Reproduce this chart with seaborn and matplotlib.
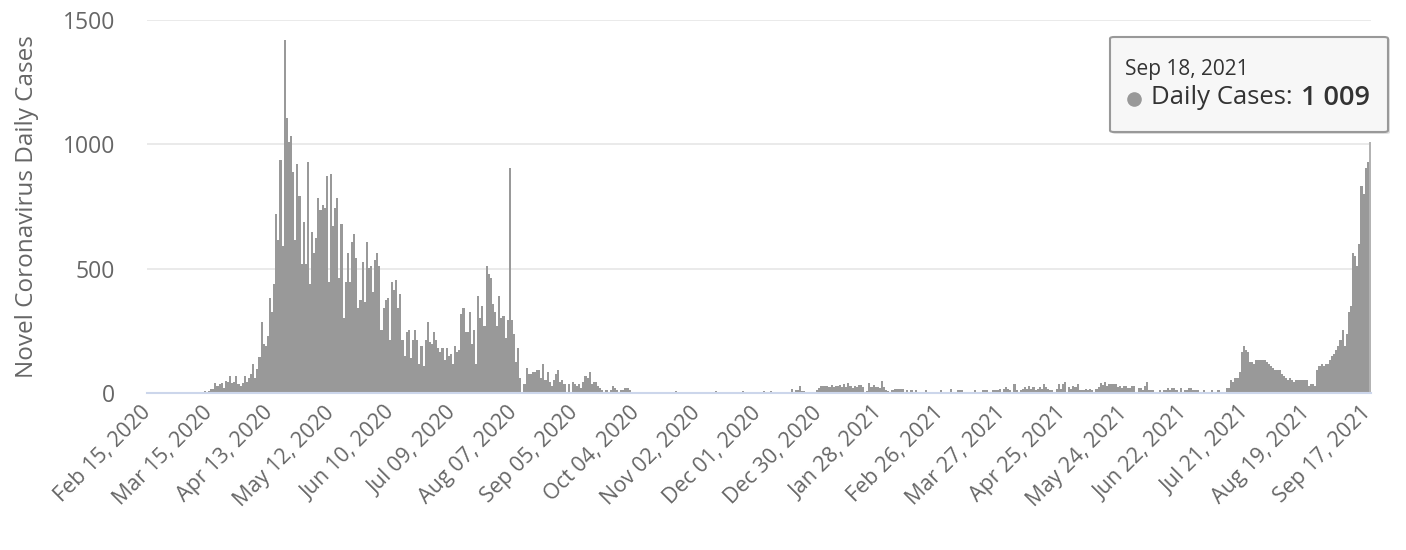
import numpy as np
import pandas as pd
import matplotlib
matplotlib.use("Agg")
import matplotlib.pyplot as plt
from matplotlib.patches import FancyBboxPatch
from matplotlib.lines import Line2D
import seaborn as sns

# -----------------------------
# DATA (daily cases, one list per 29-day tick interval)
# -----------------------------
START_DATE = "2020-02-15"
TICK_STEP = 29

cases_2020_02_15 = [0, 0, 0, 0, 0, 0, 0, 0, 0, 0, 0, 0, 0, 0, 0, 0, 0, 0, 0, 6,
                    0, 0, 0, 0, 0, 0, 0, 8, 5]
cases_2020_03_15 = [8, 15, 15, 40, 30, 37, 40, 21, 50, 44, 67, 42, 43, 67, 37,
                    27, 42, 67, 44, 60, 75, 115, 60, 98, 145, 285, 196, 189, 228]
cases_2020_04_13 = [382, 324, 437, 718, 614, 935, 590, 1418, 1104, 1008, 1032, 887,
                    614, 919, 791, 517, 686, 517, 927, 437, 646, 565, 622, 783,
                    734, 758, 742, 871, 445]
cases_2020_05_12 = [879, 670, 742, 783, 461, 678, 300, 445, 565, 445, 606, 638,
                    541, 340, 373, 525, 364, 606, 501, 509, 405, 533, 565, 509,
                    252, 340, 373, 381, 212]
cases_2020_06_10 = [445, 413, 453, 340, 397, 212, 147, 244, 252, 139, 212, 252,
                    212, 115, 188, 107, 212, 284, 204, 196, 244, 212, 180, 163,
                    180, 131, 180, 147, 155]
cases_2020_07_09 = [115, 188, 163, 171, 316, 340, 244, 244, 324, 196, 252, 115,
                    389, 300, 348, 268, 509, 477, 461, 356, 324, 268, 389, 300,
                    308, 220, 292, 903, 292]
cases_2020_08_07 = [236, 123, 180, 59, 0, 35, 99, 75, 75, 83, 83, 91, 91, 59, 115,
                    51, 83, 43, 27, 51, 75, 91, 43, 51, 35, 0, 35, 0, 43]
cases_2020_09_05 = [35, 27, 35, 19, 43, 67, 59, 83, 35, 43, 43, 27, 19, 11, 0,
                    11, 0, 11, 27, 19, 11, 0, 11, 11, 19, 19, 11, 0, 0]
cases_2020_10_04 = [0, 0, 0, 0, 0, 0, 0, 0, 0, 0, 0, 0, 0, 0, 0, 0, 0, 0, 0, 8,
                    0, 0, 0, 0, 0, 0, 0, 0, 0]
cases_2020_11_02 = [0, 0, 0, 0, 0, 0, 0, 0, 0, 8, 0, 0, 0, 0, 0, 0, 0, 0, 0, 0,
                    0, 0, 8, 0, 0, 0, 0, 0, 0]
cases_2020_12_01 = [0, 0, 0, 8, 0, 0, 8, 0, 0, 0, 0, 0, 0, 0, 5, 0, 17, 0, 11, 11,
                    27, 8, 8, 0, 0, 0, 0, 0, 11]
cases_2020_12_30 = [20, 27, 27, 27, 27, 24, 31, 24, 27, 27, 33, 24, 36, 24, 42,
                    27, 20, 27, 24, 33, 33, 24, 0, 8, 42, 24, 33, 24, 24]
cases_2021_01_28 = [20, 50, 24, 11, 8, 0, 11, 17, 17, 17, 17, 17, 0, 11, 0, 11,
                    0, 11, 0, 0, 0, 0, 11, 0, 0, 0, 0, 0, 0]
cases_2021_02_26 = [11, 0, 0, 0, 0, 17, 0, 0, 11, 11, 11, 0, 0, 0, 0, 0, 11, 0,
                    0, 0, 11, 11, 11, 0, 0, 11, 11, 11, 17]
cases_2021_03_27 = [0, 17, 24, 17, 11, 0, 35, 11, 0, 11, 17, 24, 17, 27, 17, 24,
                    11, 17, 24, 17, 35, 24, 17, 11, 11, 0, 17, 35, 17]
cases_2021_04_25 = [38, 44, 0, 24, 17, 27, 24, 35, 11, 11, 11, 17, 11, 17, 11, 0,
                    17, 24, 40, 33, 43, 27, 35, 35, 35, 35, 24, 27, 19]
cases_2021_05_24 = [27, 27, 19, 19, 27, 27, 0, 19, 19, 11, 27, 43, 11, 11, 11, 0,
                    0, 11, 0, 11, 11, 19, 11, 19, 19, 11, 0, 19, 0]
cases_2021_06_22 = [11, 11, 19, 19, 11, 11, 11, 0, 0, 11, 0, 0, 0, 11, 0, 0, 11,
                    0, 0, 0, 19, 19, 51, 43, 59, 59, 83, 163, 188]
cases_2021_07_21 = [172, 163, 123, 123, 115, 131, 131, 131, 131, 131, 123, 115,
                    107, 99, 91, 91, 91, 75, 67, 59, 51, 59, 51, 43, 51, 51, 51,
                    51, 51]
cases_2021_08_19 = [51, 27, 35, 35, 27, 91, 107, 115, 107, 115, 115, 131, 147,
                    155, 172, 188, 212, 252, 188, 236, 324, 348, 565, 549, 509,
                    598, 831, 799, 903]
cases_2021_09_17 = [927, 1009]

daily_cases = (cases_2020_02_15 + cases_2020_03_15 + cases_2020_04_13 +
               cases_2020_05_12 + cases_2020_06_10 + cases_2020_07_09 +
               cases_2020_08_07 + cases_2020_09_05 + cases_2020_10_04 +
               cases_2020_11_02 + cases_2020_12_01 + cases_2020_12_30 +
               cases_2021_01_28 + cases_2021_02_26 + cases_2021_03_27 +
               cases_2021_04_25 + cases_2021_05_24 + cases_2021_06_22 +
               cases_2021_07_21 + cases_2021_08_19 + cases_2021_09_17)

dates = pd.date_range(START_DATE, periods=len(daily_cases), freq="D")
df = pd.DataFrame({"day": np.arange(len(daily_cases)), "cases": daily_cases})

# -----------------------------
# STYLE
# -----------------------------
BAR_COLOR = "#999999"
HOVER_COLOR = "#b3b3b3"
LABEL_COLOR = "#666666"
W, H = 1406, 550

sns.set_theme(style="white")
plt.rcParams["font.family"] = ["Open Sans", "DejaVu Sans"]

fig = plt.figure(figsize=(W / 100, H / 100), dpi=100)
ax = fig.add_axes([147 / W, 1 - 393 / H, 1224 / W, 373 / H])

sns.barplot(data=df, x="day", y="cases", color=BAR_COLOR, saturation=1,
            width=1.0, errorbar=None, linewidth=0, ax=ax)
ax.patches[-1].set_facecolor(HOVER_COLOR)

n = len(daily_cases)
ax.set_xlim(-0.5, n - 0.5)
ax.set_ylim(0, 1500)
ax.set_yticks([0, 500, 1000, 1500])
ax.set_yticklabels(["0", "500", "1000", "1500"])

tick_pos = list(range(0, n, TICK_STEP))
ax.set_xticks(tick_pos)
ax.set_xticklabels([dates[i].strftime("%b %d, %Y") for i in tick_pos],
                   rotation=45, ha="right", va="center", rotation_mode="anchor")

ax.grid(axis="y", color="#e6e6e6", linewidth=1.2)
ax.set_axisbelow(True)
for side in ["top", "right", "left"]:
    ax.spines[side].set_visible(False)
ax.spines["bottom"].set_color("#ccd6eb")
ax.spines["bottom"].set_linewidth(1.5)

ax.tick_params(axis="y", length=0, pad=23, labelsize=16.5, labelcolor=LABEL_COLOR)
ax.tick_params(axis="x", length=0, pad=12, labelsize=15.5, labelcolor=LABEL_COLOR)

ax.set_xlabel("")
ax.set_ylabel("Novel Coronavirus Daily Cases", fontsize=17.5, color=LABEL_COLOR)
ax.yaxis.set_label_coords(-0.088, 0.5)

# -----------------------------
# TOOLTIP
# -----------------------------
def fx(px):
    return px / W

def fy(py):
    return 1 - py / H

shadow = FancyBboxPatch((fx(1112), fy(134)), fx(278), 96 / H,
                        boxstyle="round,pad=0,rounding_size=0.003",
                        transform=fig.transFigure, facecolor="#000000",
                        alpha=0.12, edgecolor="none")
box = FancyBboxPatch((fx(1110), fy(132)), fx(278), 95 / H,
                     boxstyle="round,pad=0,rounding_size=0.003",
                     transform=fig.transFigure, facecolor="#f7f7f7",
                     edgecolor="#999999", linewidth=1.5)
fig.add_artist(shadow)
fig.add_artist(box)

fig.text(fx(1125), fy(70), dates[-1].strftime("%b %d, %Y"), fontsize=15,
         color="#333333", va="center", ha="left")
fig.add_artist(Line2D([fx(1134)], [fy(99)], marker="o", markersize=9.5,
                      color=BAR_COLOR, transform=fig.transFigure))
fig.text(fx(1151), fy(98), "Daily Cases:", fontsize=18.5, color="#333333",
         va="center", ha="left")
fig.text(fx(1370), fy(98), f"{daily_cases[-1]:,}".replace(",", " "),
         fontsize=19.5, fontweight="semibold", color="#333333", va="center",
         ha="right")

fig.savefig("out.png", dpi=100)
